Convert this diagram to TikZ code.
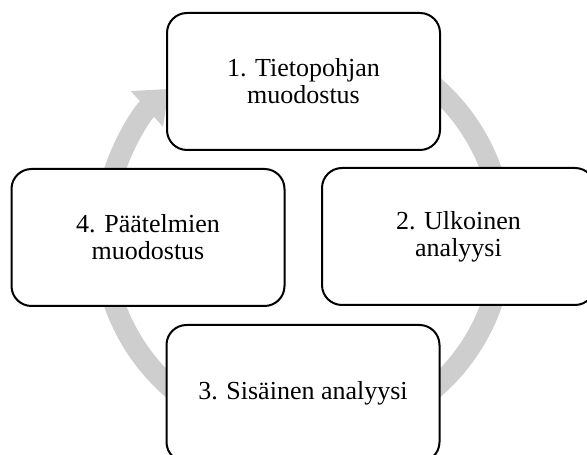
\documentclass[tikz,border=0pt]{standalone}
\usepackage{fontspec}
\setmainfont{Liberation Serif}
\usetikzlibrary{arrows.meta}
\definecolor{cyclegray}{RGB}{207,206,206}
\begin{document}
\begin{tikzpicture}[x=1pt,y=1pt,line width=2pt,
	stage/.style={draw=black,fill=white,rounded corners=20pt,minimum width=273pt,minimum height=137pt,inner sep=0pt,align=center,font=\fontsize{26}{27}\selectfont}]
	\useasboundingbox (0,0) rectangle (587,455);
	\coordinate (hub) at (303,217.5);
	% circular arrow behind the four stages
	\draw[cyclegray,line width=21pt,-{Triangle[length=30pt,width=46pt]}] (hub) ++(75:200) arc[start angle=75,end angle=-228,radius=200];
	\node[stage] (tieto) at (303.5,373.5) {1. Tietopohjan\\muodostus};
	\node[stage] (ulko) at (458.5,218.5) {2. Ulkoinen\\analyysi};
	\node[stage] (sisa) at (303,61.5) {3. Sisäinen analyysi};
	\node[stage] (paat) at (148,217.5) {4. Päätelmien\\muodostus};
\end{tikzpicture}
\end{document}
